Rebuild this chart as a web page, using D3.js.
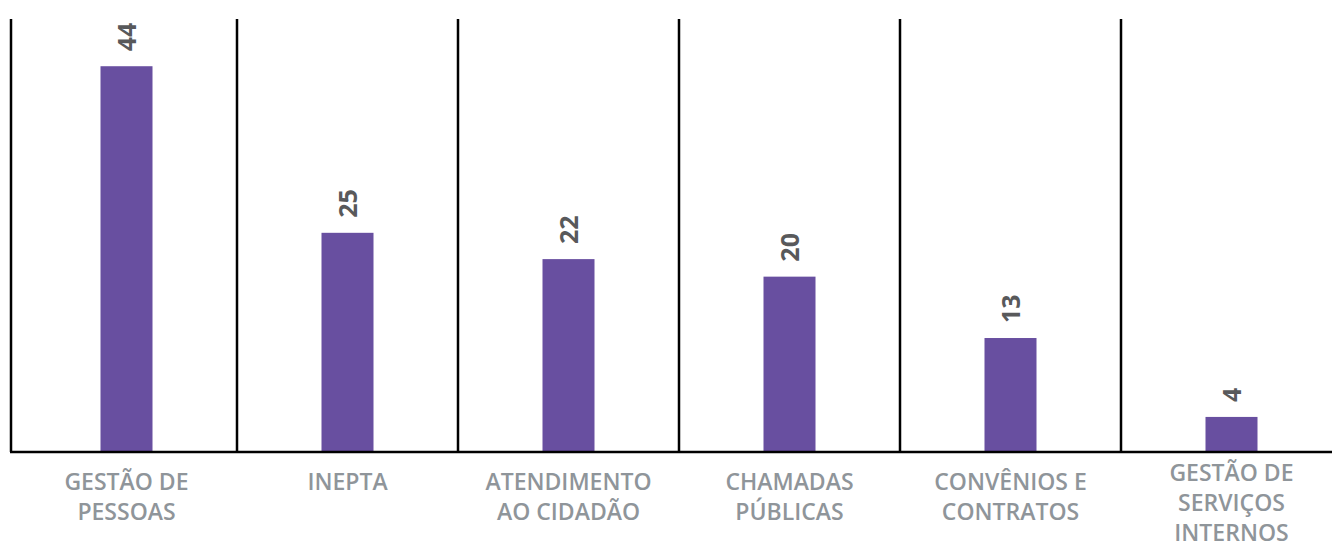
<!DOCTYPE html>
<html>
<head>
<meta charset="utf-8">
<script src="https://cdn.jsdelivr.net/npm/d3@7"></script>
<style>
  body { margin: 0; background: #fff; }
  .cat { font-family: "Open Sans", Lato, sans-serif; font-weight: 600; fill: #8f959a; font-size: 23px; }
  .val { font-family: "Open Sans", Lato, sans-serif; font-weight: 700; fill: #58595b; font-size: 25px; }
</style>
</head>
<body>
<div id="chart"></div>
<script>
// chart data
const categories = [
  ["GESTÃO DE", "PESSOAS"],
  ["INEPTA"],
  ["ATENDIMENTO", "AO CIDADÃO"],
  ["CHAMADAS", "PÚBLICAS"],
  ["CONVÊNIOS E", "CONTRATOS"],
  ["GESTÃO DE", "SERVIÇOS", "INTERNOS"]
];
const values = [44, 25, 22, 20, 13, 4];

const width = 1332;
const height = 548;
const baseY = 452;
const topY = 19;

const svg = d3.select("#chart")
    .append("svg")
    .attr("width", width)
    .attr("height", height);

const keys = categories.map(d => d.join(" "));

const x = d3.scaleBand()
    .domain(keys)
    .range([16, 1342])
    .padding(0);

const y = d3.scaleLinear()
    .domain([0, 49.5])
    .range([baseY, 18]);

const barW = 52;
const cx = i => x(keys[i]) + x.bandwidth() / 2;

// left axis + separators
svg.append("line")
    .attr("x1", 11).attr("x2", 11)
    .attr("y1", topY).attr("y2", baseY)
    .attr("stroke", "#000")
    .attr("stroke-width", 2.5);

svg.selectAll(".sep")
    .data(keys.slice(1))
    .enter().append("line")
    .attr("x1", d => x(d))
    .attr("x2", d => x(d))
    .attr("y1", topY)
    .attr("y2", baseY)
    .attr("stroke", "#000")
    .attr("stroke-width", 2.5);

svg.selectAll(".bar")
    .data(values)
    .enter().append("rect")
    .attr("x", (d, i) => cx(i) - barW / 2)
    .attr("y", d => y(d))
    .attr("width", barW)
    .attr("height", d => baseY - y(d))
    .attr("fill", "#684fa0");

// baseline
svg.append("line")
    .attr("x1", 10)
    .attr("x2", width)
    .attr("y1", baseY)
    .attr("y2", baseY)
    .attr("stroke", "#000")
    .attr("stroke-width", 2.5);

// value labels, rotated
svg.selectAll(".val")
    .data(values)
    .enter().append("text")
    .attr("class", "val")
    .attr("transform", (d, i) => `translate(${cx(i) + 9},${y(d) - 15}) rotate(-90)`)
    .attr("text-anchor", "start")
    .text(d => d);

// category labels (three-line label sits a bit higher)
const cats = svg.selectAll(".cat")
    .data(categories)
    .enter().append("text")
    .attr("class", "cat")
    .attr("text-anchor", "middle")
    .attr("x", (d, i) => cx(i))
    .attr("y", d => d.length > 2 ? 481 : 490);

cats.selectAll("tspan")
    .data(d => d)
    .enter().append("tspan")
    .attr("x", function() { return d3.select(this.parentNode).attr("x"); })
    .attr("dy", (d, i) => i === 0 ? 0 : 30)
    .text(d => d);
</script>
</body>
</html>
